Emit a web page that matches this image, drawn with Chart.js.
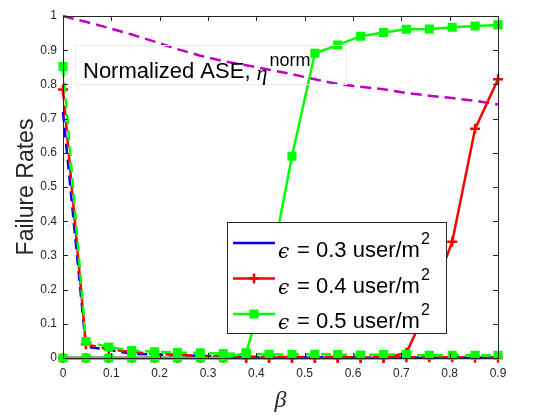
<!DOCTYPE html>
<html>
<head>
<meta charset="utf-8">
<script src="https://cdn.jsdelivr.net/npm/chart.js@4.4.1/dist/chart.umd.min.js"></script>
<style>
  html, body { margin: 0; padding: 0; background: #fff; }
  canvas { display: block; }
</style>
</head>
<body>
<canvas id="chart" width="560" height="420"></canvas>
<script>
// valeurs (20 points de beta entre 0 et 0.9)
const beta = [0, 0.0474, 0.0947, 0.1421, 0.1895, 0.2368, 0.2842, 0.3316, 0.3789, 0.4263,
  0.4737, 0.5211, 0.5684, 0.6158, 0.6632, 0.7105, 0.7579, 0.8053, 0.8526, 0.9];

// courbes qui montent (trait plein)
const blueRise = [0, 0, 0, 0, 0, 0, 0, 0, 0, 0, 0, 0, 0, 0, 0, 0, 0, 0, 0, 0];
const redRise = [0, 0, 0, 0, 0, 0, 0, 0, 0, 0, 0, 0, 0, 0, 0, 0.015, 0.16, 0.34, 0.67, 0.815];
const greenRise = [0, 0, 0, 0, 0, 0, 0, 0, 0.015, 0.24, 0.59, 0.891, 0.915, 0.941, 0.952, 0.961, 0.962, 0.967, 0.971, 0.974];

// courbes qui descendent (tirets)
const blueDrop = [0.72, 0.033, 0.024, 0.012, 0.010, 0.008, 0.006, 0.004, 0.003, 0.003,
  0.002, 0.002, 0.002, 0.001, 0.001, 0.001, 0.001, 0.001, 0.001, 0.001];
const redDrop = [0.785, 0.04, 0.025, 0.018, 0.012, 0.010, 0.006, 0.005, 0.004, 0.004,
  0.003, 0.003, 0.003, 0.002, 0.002, 0.002, 0.002, 0.002, 0.001, 0.001];
const greenDrop = [0.852, 0.048, 0.032, 0.022, 0.018, 0.016, 0.015, 0.013, 0.012, 0.011,
  0.010, 0.011, 0.010, 0.009, 0.010, 0.010, 0.008, 0.008, 0.008, 0.008];

// ASE normalisée
const aseNorm = [1.0, 0.983, 0.965, 0.946, 0.925, 0.903, 0.884, 0.868, 0.856, 0.843,
  0.830, 0.815, 0.801, 0.793, 0.786, 0.775, 0.767, 0.760, 0.752, 0.741];

const legendLabels = ['0.3', '0.4', '0.5'];
const xTicks = { min: 0, max: 0.9, step: 0.1 };
const yTicks = { min: 0, max: 1, step: 0.1 };

const SANS = "'Liberation Sans', Arial, Helvetica, sans-serif";
const AXIS = '#262626';

function pts(vals) {
  return vals.map((v, i) => ({ x: beta[i], y: v }));
}

function serie(vals, color, opts) {
  return Object.assign({
    data: pts(vals),
    borderColor: color,
    backgroundColor: color,
    borderWidth: 2.5,
    pointRadius: 0,
    tension: 0,
    clip: false
  }, opts);
}

// étiquettes façon MATLAB : 0, 0.1, ..., 1
function tickFmt(v) {
  return String(+Number(v).toFixed(1));
}

const DASH = [10, 6];
const crossPt = { pointStyle: 'cross', pointRadius: 5, pointBorderWidth: 2.5 };
const rectPt = { pointStyle: 'rect', pointRadius: 5, pointBorderWidth: 2, pointBackgroundColor: '#00ff00' };

// trace les cadres, petits traits, légende et annotation façon MATLAB
const matlabDecor = {
  id: 'matlabDecor',
  afterDraw(chart) {
    const ctx = chart.ctx;
    const a = chart.chartArea;
    const sx = chart.scales.x, sy = chart.scales.y;
    ctx.save();

    // cadre de l'axe + ticks vers l'intérieur
    ctx.strokeStyle = AXIS;
    ctx.lineWidth = 1;
    ctx.strokeRect(Math.round(a.left) + 0.5, Math.round(a.top) + 0.5,
      Math.round(a.right - a.left), Math.round(a.bottom - a.top));
    const tl = 5;
    ctx.beginPath();
    sx.ticks.forEach(t => {
      const px = Math.round(sx.getPixelForValue(t.value)) + 0.5;
      ctx.moveTo(px, a.bottom); ctx.lineTo(px, a.bottom - tl);
      ctx.moveTo(px, a.top); ctx.lineTo(px, a.top + tl);
    });
    sy.ticks.forEach(t => {
      const py = Math.round(sy.getPixelForValue(t.value)) + 0.5;
      ctx.moveTo(a.left, py); ctx.lineTo(a.left + tl, py);
      ctx.moveTo(a.right, py); ctx.lineTo(a.right - tl, py);
    });
    ctx.stroke();

    // annotation "Normalized ASE, eta^norm"
    ctx.strokeStyle = '#ececec';
    ctx.strokeRect(75.5, 45.5, 271, 39);
    ctx.fillStyle = '#000';
    ctx.textBaseline = 'alphabetic';
    ctx.textAlign = 'left';
    ctx.font = '22px ' + SANS;
    let tx = 83;
    const txt = 'Normalized ASE, ';
    ctx.fillText(txt, tx, 78);
    tx += ctx.measureText(txt).width;
    ctx.font = "italic 22px 'Liberation Serif', 'DejaVu Serif', serif";
    ctx.fillText('η', tx, 80);
    tx += ctx.measureText('η').width + 2;
    ctx.font = '18px ' + SANS;
    ctx.fillText('norm', tx, 66);

    // légende
    const lx = 227, ly = 222, lw = 219, lh = 111;
    ctx.fillStyle = '#fff';
    ctx.fillRect(lx, ly, lw, lh);
    ctx.strokeStyle = AXIS;
    ctx.strokeRect(lx + 0.5, ly + 0.5, lw, lh);
    const rows = [243, 278.5, 314];
    const cols = ['#0000ff', '#ff0000', '#00ff00'];
    rows.forEach((ry, k) => {
      ctx.strokeStyle = cols[k];
      ctx.lineWidth = 2.5;
      ctx.beginPath();
      ctx.moveTo(233, ry); ctx.lineTo(275, ry);
      ctx.stroke();
      if (k === 1) {
        ctx.beginPath();
        ctx.moveTo(249, ry); ctx.lineTo(259, ry);
        ctx.moveTo(254, ry - 5); ctx.lineTo(254, ry + 5);
        ctx.stroke();
      } else if (k === 2) {
        ctx.fillStyle = cols[k];
        ctx.lineWidth = 2;
        ctx.fillRect(250.5, ry - 3.5, 7, 7);
        ctx.strokeRect(250.5, ry - 3.5, 7, 7);
      }
      ctx.fillStyle = '#000';
      ctx.font = "italic 20px 'DejaVu Serif', serif";
      ctx.fillText('ϵ', 278, ry + 15);
      ctx.font = '22px ' + SANS;
      const s = '= ' + legendLabels[k] + ' user/m';
      ctx.fillText(s, 297, ry + 14);
      const w = ctx.measureText(s).width;
      ctx.font = '16px ' + SANS;
      ctx.fillText('2', 297 + w + 1, ry + 1);
    });
    ctx.restore();
  }
};

new Chart(document.getElementById('chart'), {
  type: 'line',
  data: {
    datasets: [
      serie(greenRise, '#00ff00', Object.assign({ order: 1 }, rectPt)),
      serie(greenDrop, '#00ff00', Object.assign({ order: 2, borderDash: DASH }, rectPt)),
      serie(redDrop, '#ff0000', Object.assign({ order: 3, borderDash: DASH }, crossPt)),
      serie(redRise, '#ff0000', Object.assign({ order: 4 }, crossPt)),
      serie(blueDrop, '#0000ff', { order: 5, borderDash: DASH }),
      serie(blueRise, '#0000ff', { order: 6 }),
      serie(aseNorm, '#bf00bf', { order: 7, borderDash: [11, 6] })
    ]
  },
  options: {
    responsive: false,
    animation: false,
    devicePixelRatio: 1,
    layout: { padding: { top: 16, right: 62, left: 0, bottom: 0 } },
    plugins: { legend: { display: false }, tooltip: { enabled: false } },
    scales: {
      x: {
        type: 'linear',
        min: xTicks.min,
        max: xTicks.max,
        ticks: { stepSize: xTicks.step, padding: 8, color: AXIS, maxRotation: 0,
          font: { size: 12, family: SANS }, callback: tickFmt },
        grid: { display: false, drawTicks: false },
        border: { display: false },
        title: { display: true, text: 'β', color: AXIS, padding: { top: 0, bottom: 5 },
          font: { size: 24, style: 'italic', family: "'Liberation Serif', serif" } },
        afterFit(s) { s.height = 62; s.paddingLeft = 0; s.paddingRight = 0; }
      },
      y: {
        type: 'linear',
        min: yTicks.min,
        max: yTicks.max,
        ticks: { stepSize: yTicks.step, padding: 6, color: AXIS,
          font: { size: 12, family: SANS }, callback: tickFmt },
        grid: { display: false, drawTicks: false },
        border: { display: false },
        title: { display: true, text: 'Failure Rates', color: AXIS, padding: { top: 13, bottom: 0 },
          font: { size: 23, family: SANS } },
        afterFit(s) { s.width = 63; s.paddingTop = 0; s.paddingBottom = 0; }
      }
    }
  },
  plugins: [matlabDecor]
});
</script>
</body>
</html>
